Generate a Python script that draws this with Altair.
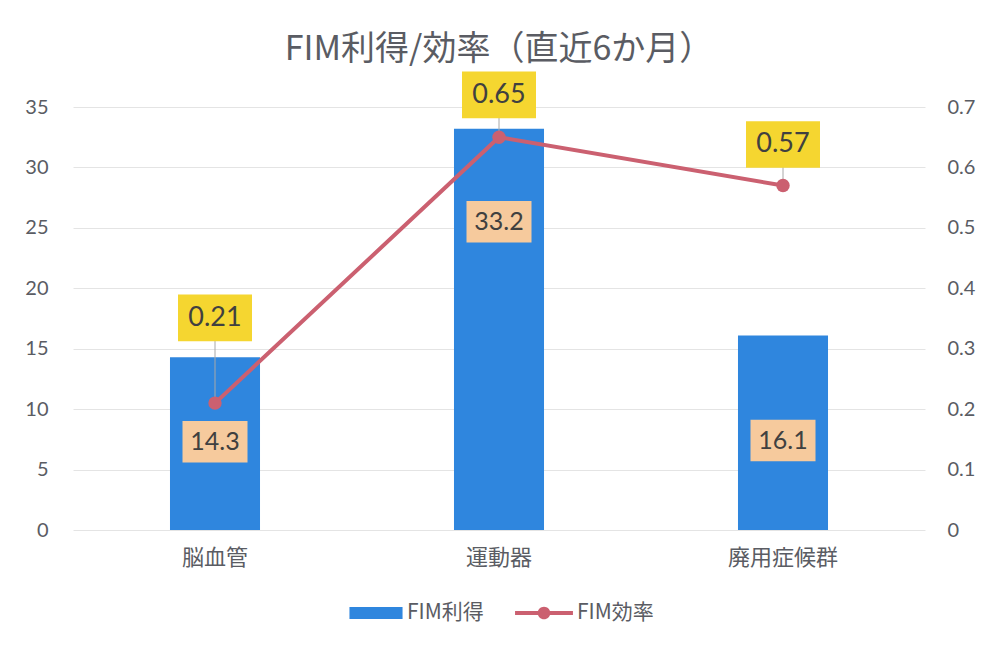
import altair as alt
import pandas as pd

# ---- data ----
categories = ["脳血管", "運動器", "廃用症候群"]
fim_gain = [14.3, 33.2, 16.1]          # FIM利得 (left axis)
fim_eff = [0.21, 0.65, 0.57]            # FIM効率 (right axis)
gain_label_at = [7.3, 25.5, 7.4]        # where the bar value boxes sit (left-axis units)
eff_label_at = [0.351, 0.72, 0.638]     # where the efficiency boxes sit (right-axis units)

df = pd.DataFrame({
    "cat": categories,
    "gain": fim_gain,
    "eff": fim_eff,
    "gain_lbl": gain_label_at,
    "eff_lbl": eff_label_at,
    "gain_txt": [f"{v:.1f}" for v in fim_gain],
    "eff_txt": [f"{v:.2f}" for v in fim_eff],
    "s1": ["FIM利得"] * 3,
    "s2": ["FIM効率"] * 3,
})

BLUE = "#2f86de"
PINK = "#cb6070"
PEACH = "#f6ca9d"
YELLOW = "#f5d630"
GRAY = "#5a5c63"
FONT = "Lato, Noto Sans CJK JP, sans-serif"
JFONT = "Noto Sans CJK JP"

x_enc = alt.X("cat:N", sort=categories, title=None,
              scale=alt.Scale(paddingInner=0.683, paddingOuter=0.3415),
              axis=alt.Axis(labelFont=JFONT, labelFontSize=22, labelColor=GRAY,
                            labelPadding=17, domain=False, ticks=False, labelAngle=0))

left_axis = alt.Axis(title=None, values=[0, 5, 10, 15, 20, 25, 30, 35],
                     labelFont=FONT, labelFontSize=20, labelColor=GRAY,
                     labelPadding=25, domain=False, ticks=False,
                     grid=True, gridColor="#e4e4e4", gridWidth=1)
right_axis = alt.Axis(title=None, orient="right",
                      values=[0, 0.1, 0.2, 0.3, 0.4, 0.5, 0.6, 0.7],
                      labelExpr="datum.value == 0 ? '0' : format(datum.value, '.1f')",
                      labelFont=FONT, labelFontSize=20, labelColor=GRAY,
                      labelPadding=22, domain=False, ticks=False, grid=False)
lscale = alt.Scale(domain=[0, 35], nice=False)
rscale = alt.Scale(domain=[0, 0.7], nice=False)

base = alt.Chart(df)

bars = base.mark_bar().encode(
    x=x_enc,
    y=alt.Y("gain:Q", scale=lscale, axis=left_axis),
    color=alt.Color("s1:N", scale=alt.Scale(domain=["FIM利得"], range=[BLUE]),
                    legend=alt.Legend(title=None, orient="none", legendX=288, legendY=491,
                                      symbolType="M-1.77,-0.4L1.77,-0.4L1.77,0.4L-1.77,0.4Z",
                                      symbolSize=900, symbolStrokeWidth=0,
                                      labelOffset=16, labelFont=JFONT, labelFontSize=21,
                                      labelColor=GRAY, padding=0)),
)
gain_box = base.mark_point(
    shape="M-1,-0.64L1,-0.64L1,0.64L-1,0.64Z", size=4225, filled=True,
    fill=PEACH, opacity=1, strokeWidth=0,
).encode(x=x_enc, y=alt.Y("gain_lbl:Q", scale=lscale, axis=left_axis))
gain_text = base.mark_text(font=FONT, fontSize=25, color="#404040", baseline="middle").encode(
    x=x_enc, y=alt.Y("gain_lbl:Q", scale=lscale, axis=left_axis), text="gain_txt:N")

left = alt.layer(bars, gain_box, gain_text)

leader = base.mark_rule(color="#a8a8a8", strokeWidth=1).encode(
    x=x_enc, y=alt.Y("eff:Q", scale=rscale, axis=right_axis), y2="eff_lbl:Q")
line = base.mark_line(color=PINK, strokeWidth=4).encode(
    x=x_enc, y=alt.Y("eff:Q", scale=rscale, axis=right_axis))
pts = base.mark_point(filled=True, size=180, opacity=1).encode(
    x=x_enc, y=alt.Y("eff:Q", scale=rscale, axis=right_axis),
    color=alt.Color("s2:N", scale=alt.Scale(domain=["FIM効率"], range=[PINK]),
                    legend=alt.Legend(title=None, orient="none", legendX=456, legendY=491,
                                      symbolType=("M-1.93,-0.13L1.93,-0.13L1.93,0.13L-1.93,0.13Z"
                                                  "M0.42,0A0.42,0.42 0 1,1 -0.42,0A0.42,0.42 0 1,1 0.42,0Z"),
                                      symbolSize=900, symbolStrokeWidth=0,
                                      labelOffset=18, labelFont=JFONT, labelFontSize=21,
                                      labelColor=GRAY, padding=0)),
)
eff_box = base.mark_point(
    shape="M-1,-0.63L1,-0.63L1,0.63L-1,0.63Z", size=5476, filled=True,
    fill=YELLOW, opacity=1, strokeWidth=0,
).encode(x=x_enc, y=alt.Y("eff_lbl:Q", scale=rscale, axis=right_axis))
eff_text = base.mark_text(font=FONT, fontSize=27, color="#404040", baseline="middle").encode(
    x=x_enc, y=alt.Y("eff_lbl:Q", scale=rscale, axis=right_axis), text="eff_txt:N")

right = alt.layer(leader, line, pts, eff_box, eff_text)

chart = alt.layer(left, right).resolve_scale(y="independent", color="independent").properties(
    width=852, height=423,
    autosize=alt.AutoSizeParams(type="none"),
    padding={"left": 65, "top": 99, "right": 54, "bottom": 116},
    title=alt.TitleParams("FIM利得/効率（直近6か月）", font=JFONT, fontSize=34,
                          fontWeight="normal", color=GRAY, anchor="middle", offset=5),
    background="white",
).configure_view(stroke=None)

chart.save("out.html", embed_options={"renderer": "svg", "actions": False})
